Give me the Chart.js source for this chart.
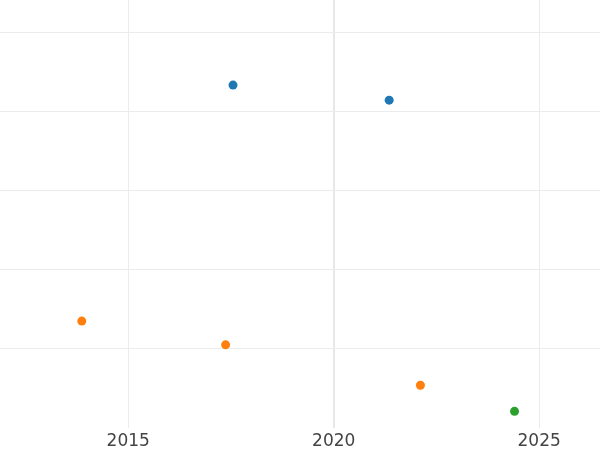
<!DOCTYPE html>
<html>
<head>
<meta charset="utf-8">
<script src="https://cdn.jsdelivr.net/npm/chart.js@4/dist/chart.umd.min.js"></script>
<style>
  html, body { margin: 0; padding: 0; background: #fff; }
  #wrap { width: 600px; height: 450px; }
</style>
</head>
<body>
<div id="wrap"><canvas id="chart"></canvas></div>
<script>
// values
const blueX = [2017.55, 2021.35];
const blueY = [4.33, 4.14];
const orangeX = [2013.87, 2017.37, 2022.11];
const orangeY = [1.35, 1.05, 0.54];
const greenX = [2024.40];
const greenY = [0.21];

const xTicks = [2015, 2020, 2025];
const yTicks = [1, 2, 3, 4, 5];

function points(xs, ys) {
    return xs.map((x, i) => ({ x: x, y: ys[i] }));
}

const ctx = document.getElementById('chart').getContext('2d');
new Chart(ctx, {
    type: 'scatter',
    data: {
        datasets: [
            { data: points(blueX, blueY), backgroundColor: '#1f77b4' },
            { data: points(orangeX, orangeY), backgroundColor: '#ff7f0e' },
            { data: points(greenX, greenY), backgroundColor: '#2ca02c' }
        ]
    },
    options: {
        responsive: true,
        maintainAspectRatio: false,
        animation: false,
        layout: { padding: 0, autoPadding: false },
        elements: { point: { radius: 4.5, borderWidth: 0, hoverRadius: 4.5 } },
        plugins: { legend: { display: false }, tooltip: { enabled: false } },
        scales: {
            x: {
                type: 'linear',
                min: 2011.88,
                max: 2026.48,
                afterBuildTicks: scale => { scale.ticks = xTicks.map(v => ({ value: v })); },
                afterFit: scale => { scale.height = 22; },
                border: { display: false },
                grid: {
                    drawTicks: false,
                    color: c => c.tick && c.tick.value === 2020 ? '#e8e8e8' : '#ececec',
                    lineWidth: c => c.tick && c.tick.value === 2020 ? 2 : 1
                },
                ticks: {
                    padding: 4,
                    color: '#444',
                    font: { family: 'DejaVu Sans', size: 17, lineHeight: 1.1 },
                    callback: v => String(v)
                }
            },
            y: {
                min: 0,
                max: 5.405,
                afterBuildTicks: scale => { scale.ticks = yTicks.map(v => ({ value: v })); },
                border: { display: false },
                grid: { drawTicks: false, color: '#ececec' },
                ticks: { display: false }
            }
        }
    }
});
</script>
</body>
</html>
